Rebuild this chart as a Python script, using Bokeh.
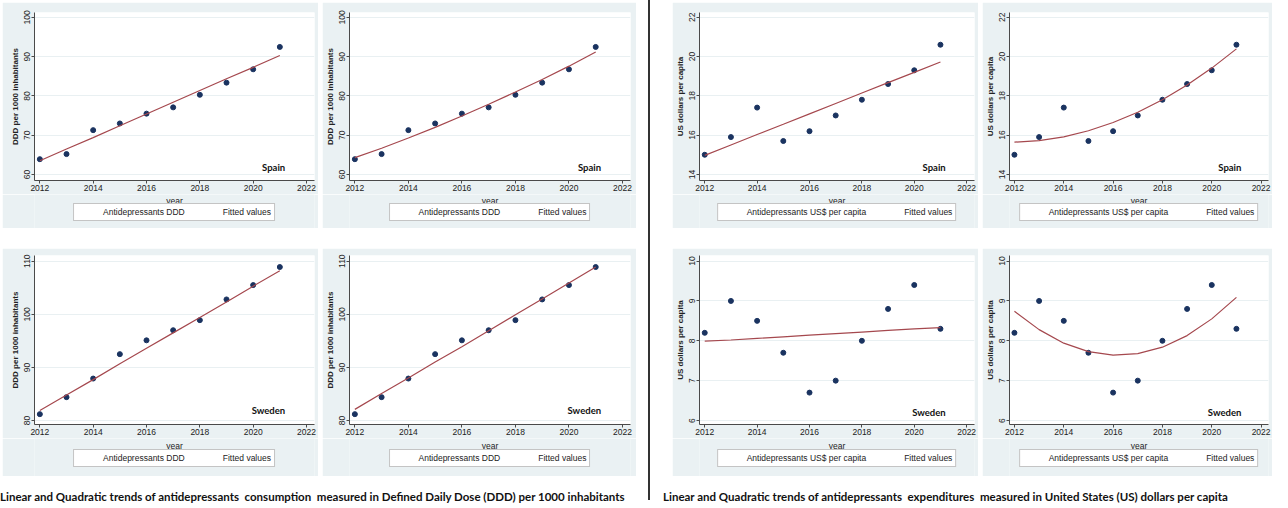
from bokeh.plotting import figure
from bokeh.models import Range1d, FixedTicker, Legend, LegendItem, Label, Div, Spacer
from bokeh.layouts import row, column
from bokeh.embed import file_html
from bokeh.resources import INLINE

# ---------------- data ----------------
years = [2012, 2013, 2014, 2015, 2016, 2017, 2018, 2019, 2020, 2021]
x_ticks = [2012, 2014, 2016, 2018, 2020, 2022]

spain_ddd = [63.9, 65.2, 71.3, 73.0, 75.5, 77.1, 80.3, 83.4, 86.8, 92.5]
spain_ddd_lin = [63.5, 66.5, 69.4, 72.4, 75.4, 78.4, 81.4, 84.4, 87.3, 90.3]
spain_ddd_quad = [64.3, 66.7, 69.3, 72.0, 74.9, 77.9, 81.0, 84.2, 87.6, 91.2]
spain_ddd_ticks = [60, 70, 80, 90, 100]

spain_usd = [15.0, 15.9, 17.4, 15.7, 16.2, 17.0, 17.8, 18.6, 19.3, 20.6]
spain_usd_lin = [14.97, 15.50, 16.03, 16.55, 17.08, 17.61, 18.14, 18.67, 19.19, 19.72]
spain_usd_quad = [15.64, 15.72, 15.91, 16.22, 16.64, 17.16, 17.80, 18.55, 19.41, 20.39]
spain_usd_ticks = [14, 16, 18, 20, 22]

sweden_ddd = [81.2, 84.4, 87.9, 92.5, 95.1, 97.0, 98.9, 102.8, 105.5, 108.9]
sweden_ddd_lin = [81.9, 84.8, 87.7, 90.7, 93.6, 96.5, 99.4, 102.3, 105.3, 108.2]
sweden_ddd_quad = [82.1, 85.1, 88.0, 91.0, 93.9, 96.9, 99.9, 102.9, 105.9, 108.9]
sweden_ddd_ticks = [80, 90, 100, 110]

sweden_usd = [8.2, 9.0, 8.5, 7.7, 6.7, 7.0, 8.0, 8.8, 9.4, 8.3]
sweden_usd_lin = [7.99, 8.02, 8.06, 8.10, 8.14, 8.18, 8.22, 8.26, 8.30, 8.33]
sweden_usd_quad = [8.74, 8.28, 7.94, 7.73, 7.64, 7.68, 7.84, 8.13, 8.55, 9.09]
sweden_usd_ticks = [6, 7, 8, 9, 10]

ddd_label = "DDD per 1000 inhabitants"
usd_label = "US dollars per capita"
ddd_series = "Antidepressants DDD"
usd_series = "Antidepressants US$ per capita"
fit_series = "Fitted values"
x_title = "year"

caption_left = "Linear and Quadratic trends of antidepressants  consumption  measured in Defined Daily Dose (DDD) per 1000 inhabitants"
caption_right = "Linear and Quadratic trends of antidepressants  expenditures  measured in United States (US) dollars per capita"

# ---------------- style ----------------
BG = "#EAF1F3"
NAVY = "#1A3360"
MAROON = "#A5484E"
AXIS = "#4A4A4A"
GRID = "#E9F0F2"
TICK_FONT = "Liberation Sans"
X0, X1 = 2011.8, 2022.3


def panel(width, main_h, foot_h, ys, fit, yr, yticks, ylabel, series, country,
          lab_y, left, right, top, year_from_top):
    # ---- main plot: frame + axes ----
    p = figure(width=width, height=main_h,
               x_range=Range1d(X0, X1), y_range=Range1d(*yr),
               output_backend="svg", toolbar_location=None,
               min_border_left=left, min_border_right=right,
               min_border_top=top, min_border_bottom=14)
    p.background_fill_color = "white"
    p.border_fill_color = BG
    p.outline_line_color = None

    p.scatter(years, ys, size=5, fill_color=NAVY, line_color=NAVY)
    p.line(years, fit, line_color=MAROON, line_width=1.2)

    p.xaxis.ticker = FixedTicker(ticks=x_ticks)
    p.yaxis.ticker = FixedTicker(ticks=yticks)
    p.xgrid.grid_line_color = None
    p.ygrid.ticker = FixedTicker(ticks=yticks)
    p.ygrid.grid_line_color = GRID

    for ax in (p.xaxis[0], p.yaxis[0]):
        ax.axis_line_color = AXIS
        ax.major_tick_line_color = AXIS
        ax.minor_tick_line_color = None
        ax.major_tick_out = 3
        ax.major_tick_in = 0
        ax.major_label_standoff = 1
        ax.major_label_text_font = TICK_FONT
        ax.major_label_text_font_size = "8.5px"
        ax.major_label_text_color = "#222222"

    p.yaxis.major_label_orientation = "vertical"
    p.yaxis.axis_label = ylabel
    p.yaxis.axis_label_text_font = TICK_FONT
    p.yaxis.axis_label_text_font_size = "8px"
    p.yaxis.axis_label_text_font_style = "bold"
    p.yaxis.axis_label_text_color = "#222222"
    p.yaxis.axis_label_standoff = 2

    p.add_layout(Label(x=2021.2, y=lab_y, text=country, text_align="right",
                       text_baseline="alphabetic", text_font="Lato",
                       text_font_style="bold", text_font_size="9.5px",
                       text_color="#111111"))

    # ---- footer: x title and legend, aligned to the plot frame ----
    f = figure(width=width, height=foot_h, x_range=Range1d(0, 1),
               y_range=Range1d(0, foot_h), x_axis_type=None, y_axis_type=None,
               output_backend="svg", toolbar_location=None,
               min_border_left=left + 2, min_border_right=right,
               min_border_top=0, min_border_bottom=0)
    f.background_fill_color = BG
    f.border_fill_color = BG
    f.outline_line_color = None
    f.grid.grid_line_color = None
    r_pts = f.scatter(x=[], y=[], size=5, fill_color=NAVY, line_color=NAVY)
    r_fit = f.line(x=[], y=[], line_color=MAROON, line_width=1.2)

    f.add_layout(Label(x=0.5, y=foot_h - year_from_top, text=x_title,
                       text_align="center", text_baseline="alphabetic",
                       text_font=TICK_FONT, text_font_size="8.5px",
                       text_color="#222222"))

    legend = Legend(items=[LegendItem(label=series, renderers=[r_pts]),
                           LegendItem(label=fit_series, renderers=[r_fit])],
                    orientation="horizontal", location="bottom_center",
                    margin=int((foot_h - 17) / 2) - 1, padding=3, spacing=12,
                    glyph_width=22, glyph_height=10, label_standoff=4,
                    label_text_font=TICK_FONT, label_text_font_size="8.5px",
                    label_text_color="#222222", label_height=10,
                    background_fill_color="white", background_fill_alpha=1,
                    border_line_color="#8A8A8A", border_line_width=1)
    f.add_layout(legend, "center")
    return column(p, f)


# top row: main 192 + footer 34 = 226
p1 = panel(316, 192, 34, spain_ddd, spain_ddd_lin, (58.47, 101.27), spain_ddd_ticks,
           ddd_label, ddd_series, "Spain", 61.8, 30, 4, 10, 6)
p2 = panel(314, 192, 34, spain_ddd, spain_ddd_quad, (58.47, 101.27), spain_ddd_ticks,
           ddd_label, ddd_series, "Spain", 61.8, 24, 6, 10, 6)
p3 = panel(306, 192, 34, spain_usd, spain_usd_lin, (13.69, 22.24), spain_usd_ticks,
           usd_label, usd_series, "Spain", 14.36, 22, 4, 10, 6)
p4 = panel(290, 192, 34, spain_usd, spain_usd_quad, (13.69, 22.24), spain_usd_ticks,
           usd_label, usd_series, "Spain", 14.36, 22, 4, 10, 6)
# bottom row: main 190 + footer 38 = 228
p5 = panel(316, 190, 38, sweden_ddd, sweden_ddd_lin, (79.25, 111.07), sweden_ddd_ticks,
           ddd_label, ddd_series, "Sweden", 81.9, 30, 4, 7, 7)
p6 = panel(314, 190, 38, sweden_ddd, sweden_ddd_quad, (79.25, 111.07), sweden_ddd_ticks,
           ddd_label, ddd_series, "Sweden", 81.9, 24, 6, 7, 7)
p7 = panel(306, 190, 38, sweden_usd, sweden_usd_lin, (5.9, 10.14), sweden_usd_ticks,
           usd_label, usd_series, "Sweden", 6.2, 22, 4, 7, 7)
p8 = panel(290, 190, 38, sweden_usd, sweden_usd_quad, (5.9, 10.14), sweden_usd_ticks,
           usd_label, usd_series, "Sweden", 6.2, 22, 4, 7, 7)

cap_style = ("font-family: Lato, 'Open Sans', sans-serif; font-weight: bold; "
             "font-size: 11.5px; color: #111; white-space: pre; padding-top: 13px;")
cap_l = Div(text=f'<div style="{cap_style}">{caption_left}</div>',
            width=636, height=24, margin=0)
cap_r = Div(text=f'<div style="{cap_style} margin-left: -9px;">{caption_right}</div>',
            width=600, height=24, margin=0)

left_block = column(Spacer(height=2),
                    row(Spacer(width=2), p1, Spacer(width=4), p2),
                    Spacer(height=20),
                    row(Spacer(width=2), p5, Spacer(width=4), p6),
                    cap_l)
right_block = column(Spacer(height=2),
                     row(p3, Spacer(width=4), p4),
                     Spacer(height=20),
                     row(p7, Spacer(width=4), p8),
                     cap_r)

divider = Div(text="", width=2, height=500, margin=0,
              styles={"background-color": "#333333"})

layout = row(left_block, Spacer(width=12), divider, Spacer(width=22), right_block)

open("out.html", "w").write(file_html(layout, INLINE))
